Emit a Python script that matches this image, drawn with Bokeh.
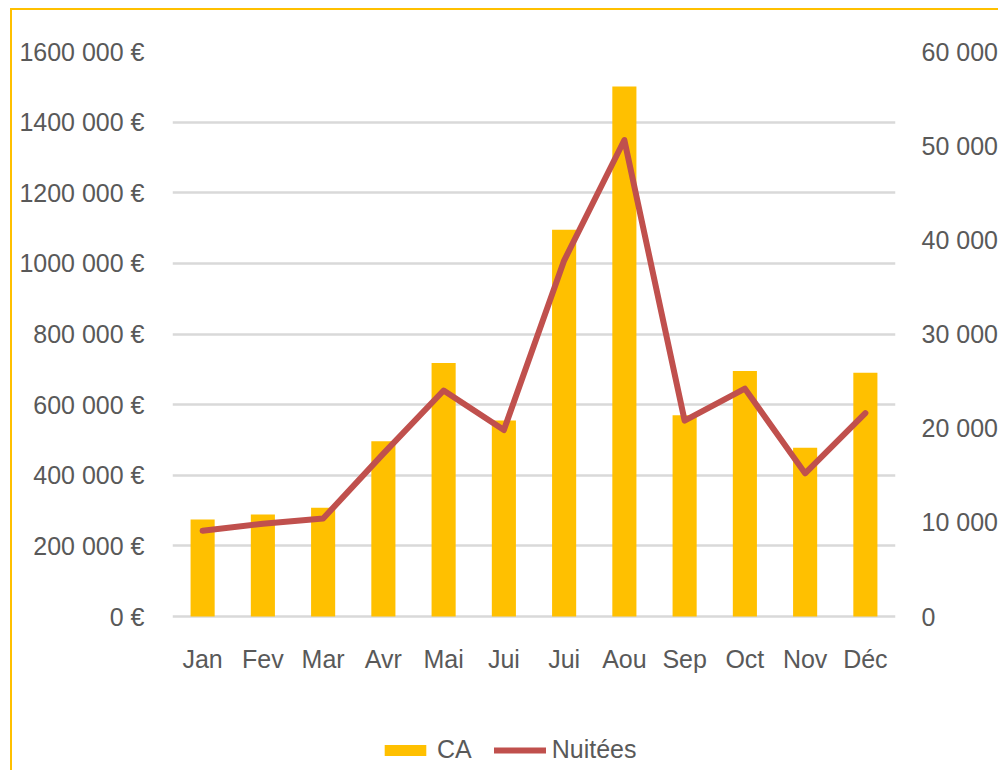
from bokeh.plotting import figure
from bokeh.models import Range1d, LinearAxis, FixedTicker, Legend, LegendItem, ColumnDataSource
from bokeh.embed import file_html
from bokeh.resources import INLINE

# ---- data ----
months = ["Jan", "Fev", "Mar", "Avr", "Mai", "Jui", "Jui", "Aou", "Sep", "Oct", "Nov", "Déc"]
ca = [275000, 289000, 308000, 496000, 718000, 555000, 1095000, 1501000, 570000, 695000, 478000, 690000]
nuitees = [9100, 9850, 10400, 17300, 24000, 19800, 37800, 50600, 20800, 24200, 15200, 21600]
left_ticks = [0, 200000, 400000, 600000, 800000, 1000000, 1200000, 1400000, 1600000]
left_labels = ["0 €", "200 000 €", "400 000 €", "600 000 €", "800 000 €",
               "1000 000 €", "1200 000 €", "1400 000 €", "1600 000 €"]
right_ticks = [0, 10000, 20000, 30000, 40000, 50000, 60000]
right_labels = ["0", "10 000", "20 000", "30 000", "40 000", "50 000", "60 000"]

FONT = "Liberation Sans"
TXT = "#595959"
FS = "25px"

# layout geometry (pixels): value area height and extra room kept under the zero line
PLOT_PX = 565
BELOW_PX = 150
L_MAX = left_ticks[-1]
R_MAX = right_ticks[-1]

x = list(range(len(months)))
src = ColumnDataSource(dict(x=x, ca=ca, n=nuitees))

p = figure(width=988, height=762, output_backend="svg", toolbar_location=None,
           x_range=Range1d(-0.5, len(months) - 0.5),
           y_range=Range1d(-L_MAX * BELOW_PX / PLOT_PX, L_MAX),
           min_border_left=160, min_border_right=105, min_border_top=41, min_border_bottom=6)
p.extra_y_ranges = {"n": Range1d(-R_MAX * BELOW_PX / PLOT_PX, R_MAX)}
p.styles = {"border-left": "2px solid #FFC000", "border-top": "2px solid #FFC000",
            "margin-left": "10px", "margin-top": "8px"}
p.outline_line_color = None
p.background_fill_color = "white"
p.border_fill_color = "white"

bars = p.vbar(x="x", top="ca", width=0.4, source=src, fill_color="#FFC000", line_color=None)
line = p.line(x="x", y="n", source=src, y_range_name="n", line_color="#C0504D", line_width=6,
              line_cap="round", line_join="round")

# x axis, drawn at the zero line
xa = p.xaxis[0]
xa.fixed_location = 0
xa.ticker = FixedTicker(ticks=x)
xa.major_label_overrides = {i: m for i, m in zip(x, months)}
xa.axis_line_color = None
xa.major_tick_line_color = None
xa.minor_tick_line_color = None
xa.major_label_standoff = 22
xa.major_label_text_font = FONT
xa.major_label_text_font_size = FS
xa.major_label_text_color = TXT

# left axis
ya = p.yaxis[0]
ya.ticker = FixedTicker(ticks=left_ticks)
ya.major_label_overrides = {t: l for t, l in zip(left_ticks, left_labels)}
ya.axis_line_color = None
ya.major_tick_line_color = None
ya.minor_tick_line_color = None
ya.major_label_standoff = 22
ya.major_label_text_font = FONT
ya.major_label_text_font_size = FS
ya.major_label_text_color = TXT

# right axis
ra = LinearAxis(y_range_name="n", ticker=FixedTicker(ticks=right_ticks))
ra.major_label_overrides = {t: l for t, l in zip(right_ticks, right_labels)}
ra.axis_line_color = None
ra.major_tick_line_color = None
ra.minor_tick_line_color = None
ra.major_label_standoff = 20
ra.major_label_text_font = FONT
ra.major_label_text_font_size = FS
ra.major_label_text_color = TXT
p.add_layout(ra, "right")

p.xgrid.grid_line_color = None
p.ygrid.ticker = FixedTicker(ticks=left_ticks)
p.ygrid.grid_line_color = "#D9D9D9"
p.ygrid.grid_line_width = 2.5

legend = Legend(items=[LegendItem(label="CA", renderers=[bars]),
                       LegendItem(label="Nuitées", renderers=[line])],
                orientation="horizontal", location=(207, 2))
legend.glyph_width = 52
legend.glyph_height = 14
legend.label_standoff = 6
legend.spacing = 22
legend.padding = 0
legend.margin = 0
legend.label_text_font = FONT
legend.label_text_font_size = FS
legend.label_text_color = TXT
legend.label_height = 20
legend.background_fill_alpha = 0
legend.border_line_color = None
p.add_layout(legend, "center")

open("out.html", "w").write(file_html(p, INLINE))
